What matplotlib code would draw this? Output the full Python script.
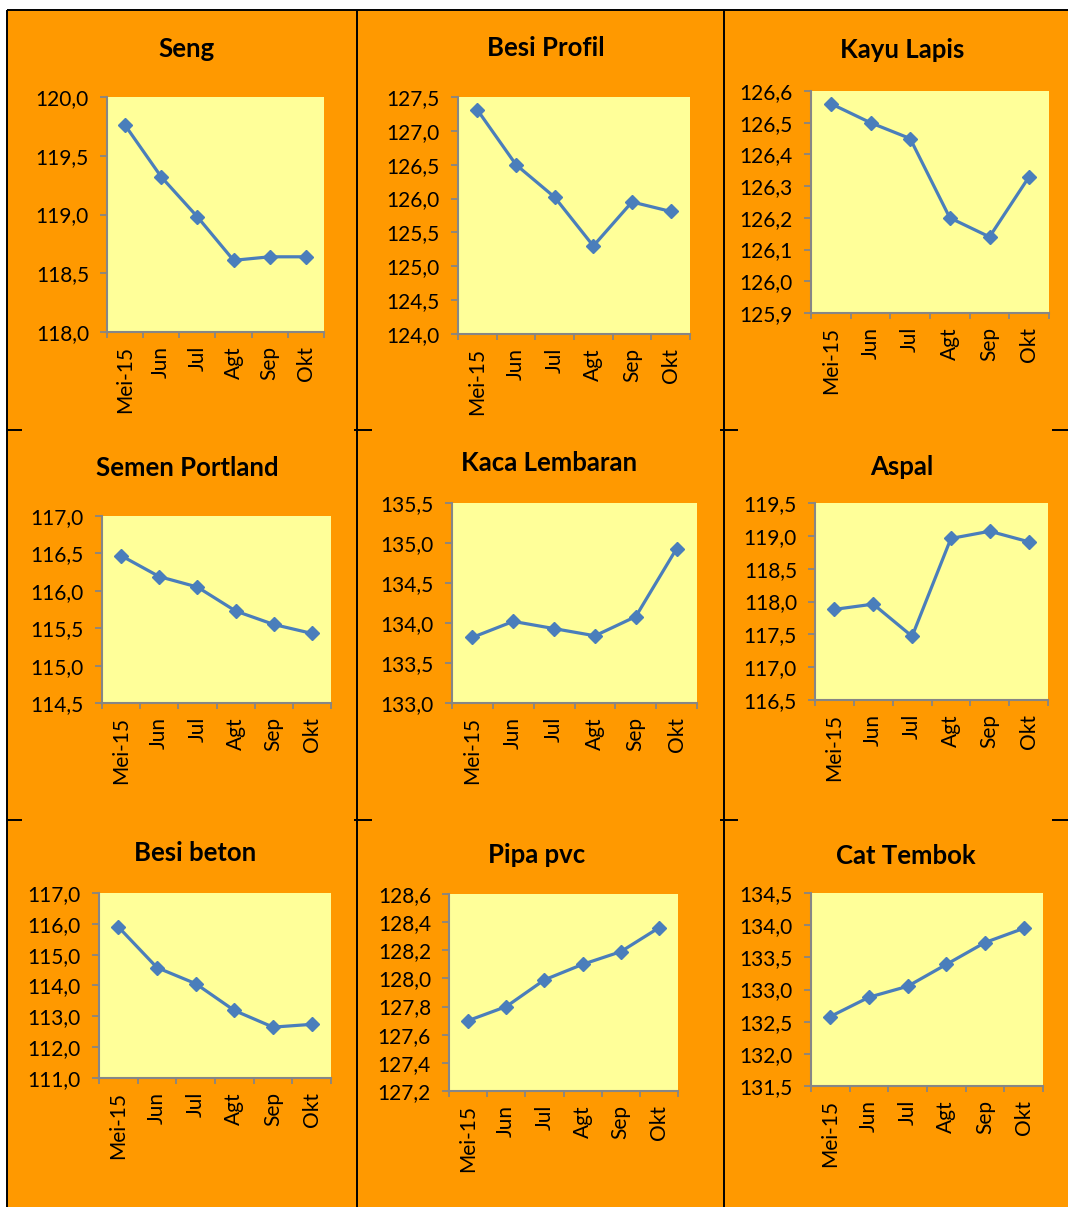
import matplotlib
matplotlib.use("Agg")
import matplotlib.pyplot as plt
from matplotlib.ticker import FuncFormatter, FixedLocator
import numpy as np

plt.rcParams['font.family'] = ['Lato', 'DejaVu Sans']

W, H = 1068, 1207
months = ["Mei-15", "Jun", "Jul", "Agt", "Sep", "Okt"]

titles = ["Seng", "Besi Profil", "Kayu Lapis",
          "Semen Portland", "Kaca Lembaran", "Aspal",
          "Besi beton", "Pipa pvc", "Cat Tembok"]

seng = [119.76, 119.32, 118.98, 118.61, 118.64, 118.64]
besi_profil = [127.31, 126.50, 126.02, 125.30, 125.95, 125.81]
kayu_lapis = [126.56, 126.50, 126.45, 126.20, 126.14, 126.33]
semen_portland = [116.47, 116.19, 116.05, 115.73, 115.55, 115.43]
kaca_lembaran = [133.82, 134.02, 133.93, 133.84, 134.08, 134.93]
aspal = [117.88, 117.96, 117.47, 118.96, 119.07, 118.91]
besi_beton = [115.90, 114.58, 114.06, 113.19, 112.65, 112.74]
pipa_pvc = [127.70, 127.80, 127.99, 128.10, 128.19, 128.36]
cat_tembok = [132.58, 132.88, 133.05, 133.39, 133.73, 133.95]

series = [seng, besi_profil, kayu_lapis, semen_portland, kaca_lembaran,
          aspal, besi_beton, pipa_pvc, cat_tembok]

# y-axis (min, max, step)
y_axes = [(118.0, 120.0, 0.5), (124.0, 127.5, 0.5), (125.9, 126.6, 0.1),
          (114.5, 117.0, 0.5), (133.0, 135.5, 0.5), (116.5, 119.5, 0.5),
          (111.0, 117.0, 1.0), (127.2, 128.6, 0.2), (131.5, 134.5, 0.5)]

# plot areas in pixels: x0, x1, y0(top), y1(bottom)
areas = [(107, 324, 97, 332), (458, 690, 97, 334), (811, 1049, 91, 313),
         (102, 331, 516, 703), (452, 697, 503, 703), (815, 1048, 503, 700),
         (99, 331, 893, 1078), (449, 678, 894, 1091), (811, 1043, 893, 1086)]

title_pos = [(187, 49), (546, 48), (902, 50),
             (187, 468), (549, 463), (902, 467),
             (195, 853), (537, 855), (906, 856)]

ORANGE = "#FF9900"
YELLOW = "#FFFF99"
LINE = "#4A7EBB"
GRAY = "#868686"

fig = plt.figure(figsize=(W / 100, H / 100), dpi=100)
fig.patch.set_facecolor("white")

bg = fig.add_axes([0, 0, 1, 1], zorder=0)
bg.set_xlim(0, W)
bg.set_ylim(H, 0)
bg.axis("off")
bg.add_patch(plt.Rectangle((7, 10), W - 7, H - 10, facecolor=ORANGE, edgecolor="none"))
lk = dict(color="black", lw=1.4, solid_capstyle="butt")
bg.plot([7, W], [10, 10], **lk)
bg.plot([7, 7], [10, H], **lk)
bg.plot([357, 357], [10, H], **lk)
bg.plot([724, 724], [10, H], **lk)
for yy in (430, 820):
    bg.plot([7, 22], [yy, yy], **lk)
    bg.plot([354, 372], [yy, yy], **lk)
    bg.plot([720, 738], [yy, yy], **lk)
    bg.plot([1052, W], [yy, yy], **lk)

for i in range(9):
    x0, x1, y0, y1 = areas[i]
    ax = fig.add_axes([x0 / W, 1 - y1 / H, (x1 - x0) / W, (y1 - y0) / H], zorder=2)
    ax.set_facecolor(YELLOW)
    ax.plot(range(len(months)), series[i], color=LINE, lw=2.3, marker="D",
            markersize=7.5, markeredgecolor=LINE, markerfacecolor=LINE, clip_on=False)
    lo, hi, st = y_axes[i]
    ax.set_ylim(lo, hi)
    ax.set_xlim(-0.5, len(months) - 0.5)
    ticks = np.round(np.arange(lo, hi + st / 2, st), 2)
    ax.yaxis.set_major_locator(FixedLocator(ticks))
    ax.yaxis.set_major_formatter(FuncFormatter(lambda v, p: f"{v:.1f}".replace(".", ",")))
    ax.set_xticks(range(len(months)))
    ax.set_xticklabels(months, rotation=90, fontsize=15)
    ax.set_xticks(np.arange(-0.5, len(months), 1.0), minor=True)
    ax.tick_params(axis="x", which="major", length=0, pad=10, labelsize=15)
    ax.tick_params(axis="x", which="minor", length=4.5, width=1.3, color=GRAY, direction="out")
    ax.tick_params(axis="y", which="major", length=5, width=1.3, color=GRAY, pad=8, labelsize=15)
    for s in ("top", "right"):
        ax.spines[s].set_visible(False)
    for s in ("left", "bottom"):
        ax.spines[s].set_color(GRAY)
        ax.spines[s].set_linewidth(1.5)
    tx, ty = title_pos[i]
    bg.text(tx, ty, titles[i], ha="center", va="center", fontsize=18.5, fontweight="bold")

fig.savefig("out.png", dpi=100, facecolor=fig.get_facecolor())
